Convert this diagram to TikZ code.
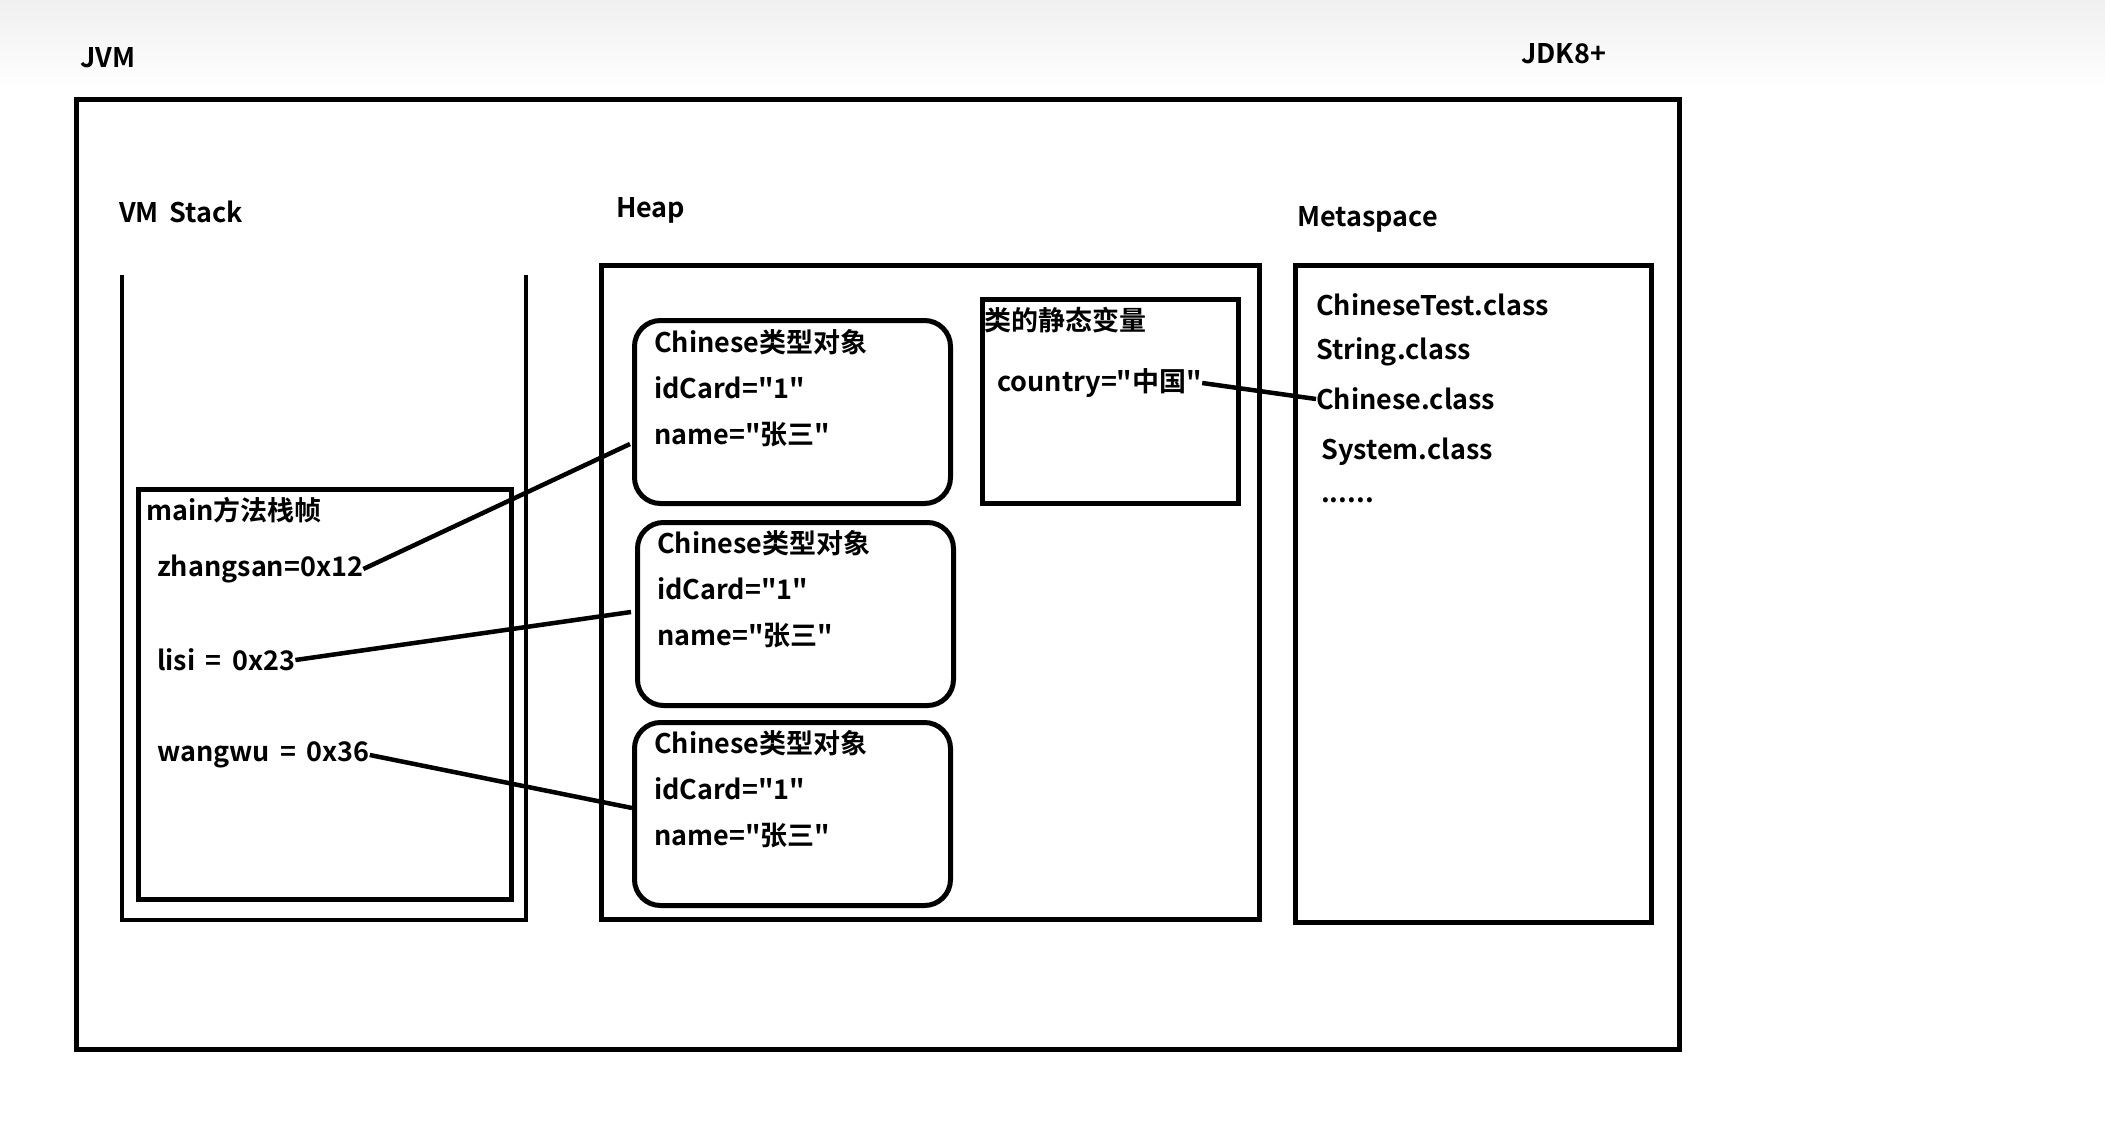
\documentclass[tikz,border=0pt]{standalone}
\usepackage{fontspec}
\newfontfamily\mf{Noto Sans CJK SC}[BoldFont={Noto Sans CJK SC Bold},WordSpace=1.7]
\begin{document}
\begin{tikzpicture}[x=1pt,y=-1pt,
  lbl/.style={anchor=west,inner sep=0pt,font=\mf\fontsize{27}{30}\selectfont\bfseries},
  boxline/.style={draw=black,line width=5pt},
  objbox/.style={draw=black,line width=5pt,rounded corners=26pt,anchor=north west,minimum width=316pt,minimum height=183pt,inner sep=0pt},
  link/.style={draw=black,line width=4.5pt}]
\useasboundingbox (0,0) rectangle (2105,1134);
\shade[top color=black!6,bottom color=white] (0,0) rectangle (2105,90);
% titles
\node[lbl] (jvm) at (80,58) {JVM};
\node[lbl] (jdk) at (1521,54) {JDK8+};
% outer JVM box
\node[boxline,anchor=north west,minimum width=1603pt,minimum height=950pt,inner sep=0pt] (outer) at (74,97) {};
% VM stack
\node[lbl] (vmst) at (119,212) {VM Stack};
\draw[line width=4.5pt] (122,275) -- (122,920) -- (526,920) -- (526,275);
\node[boxline,anchor=north west,minimum width=373pt,minimum height=410pt,inner sep=0pt] (frame) at (136,487) {};
\node[lbl] (ft) at (146,510) {main方法栈帧};
\node[lbl] (zs) at (157,569) {zhangsan=0x12};
\node[lbl] (ls) at (157,660) {lisi = 0x23};
\node[lbl] (ww) at (157,755) {wangwu = 0x36};
% Heap
\node[lbl] (heapt) at (616,210) {Heap};
\node[boxline,anchor=north west,minimum width=658pt,minimum height=654pt,inner sep=0pt] (heap) at (599,263) {};
\node[objbox] (o1) at (632,318) {};
\node[objbox] (o2) at (635,520) {};
\node[objbox] (o3) at (632,720) {};
\foreach \n/\x/\y in {a/654/342,b/657/543,c/654/743}{
  \node[lbl] (\n1) at (\x,\y) {Chinese类型对象};
  \node[lbl] (\n2) at (\x,\y+46) {idCard="1"};
  \node[lbl] (\n3) at (\x,\y+93) {name="张三"};
}
% static vars
\node[boxline,anchor=north west,minimum width=256pt,minimum height=204pt,inner sep=0pt] (stat) at (980,297) {};
\node[lbl] (statt) at (984,320) {类的静态变量};
\node[lbl] (ctry) at (997,383) {country="中国"};
% Metaspace
\node[lbl] (metat) at (1297,219) {Metaspace};
\node[boxline,anchor=north west,minimum width=356pt,minimum height=657pt,inner sep=0pt] (meta) at (1293,263) {};
\node[lbl] (m1) at (1316,305) {ChineseTest.class};
\node[lbl] (m2) at (1316,352) {String.class};
\node[lbl] (m3) at (1316,399) {Chinese.class};
\node[lbl] (m4) at (1321,452) {System.class};
\node[lbl] (m5) at (1321,500) {......};
% connectors
\coordinate (p1) at (630,444);
\coordinate (p2) at (631,612);
\coordinate (p3) at (632,808);
\draw[link] (zs.east) -- (p1);
\draw[link] (ls.east) -- (p2);
\draw[link] (ww.east) -- (p3);
\draw[link] (ctry.east) -- (m3.west);
\end{tikzpicture}
\end{document}
